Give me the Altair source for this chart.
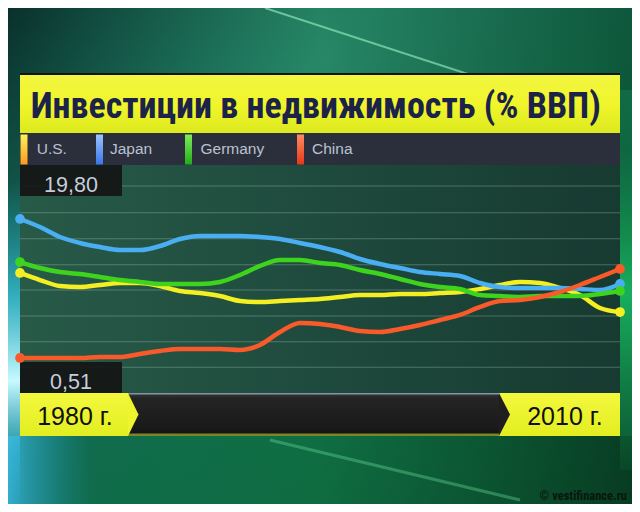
import altair as alt
import pandas as pd

# ---------------- data ----------------
title_text = "Инвестиции в недвижимость (% ВВП)"
series = ["U.S.", "Japan", "Germany", "China"]
colors = ["#f4ef22", "#4aaef2", "#3ed41e", "#fa5a2a"]
years = list(range(1980, 2011))
us = [12.31, 11.33, 10.50, 10.36, 10.64, 10.92, 10.92, 10.50, 9.81, 9.53,
      9.11, 8.42, 8.28, 8.42, 8.56, 8.70, 8.98, 9.25, 9.25, 9.39,
      9.39, 9.53, 9.67, 10.09, 10.64, 11.06, 10.92, 10.22, 9.25, 7.45, 6.89]
japan = [19.80, 18.69, 17.30, 16.47, 15.91, 15.50, 15.50, 16.05, 17.02, 17.44,
         17.44, 17.44, 17.30, 17.02, 16.47, 15.91, 15.22, 14.25, 13.56, 13.00,
         12.44, 12.17, 11.89, 10.92, 10.36, 10.22, 10.22, 10.22, 10.09, 9.95, 10.78]
germany = [13.83, 13.00, 12.44, 12.17, 11.75, 11.33, 11.06, 10.78, 10.78, 10.78,
           11.06, 12.03, 13.28, 14.11, 14.11, 13.69, 13.42, 12.72, 12.17, 11.47,
           10.78, 10.36, 10.09, 9.25, 9.11, 8.98, 9.11, 9.11, 9.11, 9.39, 9.81]
china = [0.51, 0.51, 0.51, 0.51, 0.65, 0.65, 1.07, 1.48, 1.76, 1.76,
         1.76, 1.62, 2.31, 4.12, 5.37, 5.23, 4.81, 4.26, 4.12, 4.53,
         5.09, 5.78, 6.48, 7.59, 8.42, 8.56, 8.98, 9.67, 10.64, 11.75, 12.86]
y_labels = ["19,80", "0,51"]
x_labels = ["1980 г.", "2010 г."]
credit = "© vestifinance.ru"

rows = []
for name, vals in zip(series, [us, japan, germany, china]):
    for yr, v in zip(years, vals):
        rows.append({"series": name, "year": yr, "value": v})
df = pd.DataFrame(rows)

# ---------------- helpers (layout, page coords -> chart coords) ----------------
O = 8
one = pd.DataFrame({"k": [0]})
NARROW = '"Roboto Condensed", "DejaVu Sans Condensed", sans-serif'
SANS = '"Liberation Sans", Arial, sans-serif'


def lin(stops, x1=0, y1=0, x2=0, y2=1):
    return alt.Gradient(gradient="linear",
                        stops=[alt.GradientStop(color=c, offset=o) for o, c in stops],
                        x1=x1, y1=y1, x2=x2, y2=y2)


def box(x1, y1, x2, y2, color, opacity=1.0):
    return alt.Chart(one).mark_rect(color=color, opacity=opacity).encode(
        x=alt.value(x1 - O), x2=alt.value(x2 - O),
        y=alt.value(y1 - O), y2=alt.value(y2 - O))


def label(text, x, y, size, color, font=SANS, weight="normal", align="left", opacity=1.0):
    return alt.Chart(one).mark_text(
        text=text, fontSize=size, color=color, font=font, fontWeight=weight,
        align=align, baseline="alphabetic", opacity=opacity).encode(
        x=alt.value(x - O), y=alt.value(y - O))


def line_deco(x1, y1, x2, y2, color, width, opacity):
    return alt.Chart(one).mark_rule(color=color, strokeWidth=width, opacity=opacity).encode(
        x=alt.value(x1 - O), y=alt.value(y1 - O), x2=alt.value(x2 - O), y2=alt.value(y2 - O))


def chevron(x, yc, w, h, color):
    path = "M0,-1L%.3f,0L0,1Z" % (2.0 * w / h)
    return alt.Chart(one).mark_point(shape=path, filled=True, fill=color, size=h * h,
                                     opacity=1, strokeWidth=0).encode(
        x=alt.value(x - O), y=alt.value(yc - O))


layers = []
# background
layers.append(box(8, 8, 632, 504, lin([(0, "#0a302c"), (0.3, "#156b58"), (0.6, "#0f6a44"), (1, "#0a4a2a")],
                                       x1=0, y1=0, x2=1, y2=1)))
layers.append(box(8, 8, 632, 90, lin([(0, "rgba(40,150,110,0)"), (0.5, "rgba(60,170,120,0.45)"),
                                        (1, "rgba(10,60,40,0.4)")], x1=0, y1=0, x2=1, y2=0)))
layers.append(box(8, 436, 632, 504, lin([(0, "rgba(20,120,120,0.6)"), (0.15, "rgba(16,110,80,0.4)"),
                                          (0.5, "rgba(16,120,70,0.5)"), (1, "rgba(6,50,28,0.6)")],
                                         x1=0, y1=0, x2=1, y2=0)))
# cyan glow along the left edge
layers.append(box(8, 180, 20, 504, lin([(0, "rgba(40,170,200,0)"), (0.35, "rgba(60,200,230,0.7)"),
                                         (0.62, "rgba(200,250,255,1)"), (0.85, "rgba(40,170,210,0.6)"),
                                         (1, "rgba(30,140,170,0.2)")])))
layers.append(box(8, 436, 90, 504, lin([(0, "rgba(60,190,230,0.75)"), (1, "rgba(30,140,170,0)")],
                                        x1=0, y1=0, x2=1, y2=0)))
# green glow on the right edge
layers.append(box(620, 150, 632, 470, lin([(0, "rgba(20,170,90,0)"), (0.45, "rgba(25,190,100,0.85)"),
                                            (1, "rgba(20,150,80,0.1)")])))
layers.append(line_deco(265, 8, 480, 78, "#a8ffd0", 2, 0.55))
layers.append(line_deco(270, 440, 520, 500, "#70e8a0", 3, 0.35))

# title bar
layers.append(box(20, 73, 620, 133, "#141414"))
layers.append(box(20, 75, 620, 133, lin([(0, "#f2f640"), (0.5, "#f1f52c"), (1, "#dcea1e")])))
layers.append(label(title_text, 30.7, 118.3, 36, "#1b2349", font=NARROW, weight="bold"))

# legend bar
layers.append(box(20, 133, 620, 165, "#2b2f3b"))
leg_marker_x = [20.5, 96, 185, 297]
leg_text_x = [36.7, 110, 200.5, 312]
marker_grads = [
    [(0, "#fff060"), (1, "#ff9a18")],
    [(0, "#9cc4ff"), (1, "#3a74e8")],
    [(0, "#80ec58"), (1, "#22ac1c")],
    [(0, "#ff8c62"), (1, "#e6381a")],
]
for name, mx, tx, g in zip(series, leg_marker_x, leg_text_x, marker_grads):
    layers.append(box(mx, 134.5, mx + 7, 164.5, lin(g)))
    layers.append(label(name, tx, 154, 15.5, "#b9c2d3"))

# plot panel
layers.append(box(20, 165, 620, 393, lin([(0, "#285a48"), (0.45, "#1f4c3e"), (1, "#173a31")],
                                         x1=0, y1=0, x2=1, y2=0)))
for gy in [186, 212.7, 238.7, 264.7, 290, 316, 341.7, 367.3]:
    layers.append(box(20, gy - 0.5, 620, gy + 0.5, "#b8d0c8", 0.33))

# min / max value boxes
layers.append(box(20, 165, 122, 196, "#141414", 0.93))
layers.append(box(20, 362, 122, 393, "#141414", 0.93))
layers.append(label(y_labels[0], 71, 192.3, 21.5, "#c5cedb", align="center"))
layers.append(label(y_labels[1], 71, 388.5, 21.5, "#c5cedb", align="center"))

# data lines
xs = alt.X("year:Q", scale=alt.Scale(domain=[1980, 2010], range=[12, 612], nice=False, zero=False), axis=None)
ys = alt.Y("value:Q", scale=alt.Scale(domain=[-4.35, 27.57], range=[385, 155], nice=False, zero=False), axis=None)
cs = alt.Color("series:N", scale=alt.Scale(domain=series, range=colors), legend=None)
base = alt.Chart(df).encode(x=xs, y=ys, color=cs)
layers.append(base.mark_line(strokeWidth=4.5, interpolate="monotone", strokeCap="round", strokeJoin="round"))
layers.append(base.mark_circle(size=95, opacity=1).transform_filter(
    (alt.datum.year == years[0]) | (alt.datum.year == years[-1])))

# bottom time bar
layers.append(box(128, 393, 499, 436, lin([(0, "#3a3a3a"), (0.12, "#242424"), (0.8, "#1a1a1a"), (1, "#101010")])))
layers.append(box(128, 393, 499, 394.5, "#8aa0b2", 0.9))
layers.append(box(128, 433.5, 499, 436, "#a8b830", 0.7))
yel = lin([(0, "#f4f83e"), (1, "#e2ee20")])
layers.append(box(20, 393, 128, 436, yel))
layers.append(chevron(128, 414.5, 10.5, 43, "#eef42e"))
layers.append(box(499, 393, 620, 436, yel))
layers.append(chevron(499, 414.5, 11, 43, "#1e1e1e"))
layers.append(label(x_labels[0], 75, 425, 25, "#101010", align="center"))
layers.append(label(x_labels[1], 565, 425, 25, "#101010", align="center"))

# credit
layers.append(label(credit, 627, 500, 12.5, "#08160e", font=NARROW, weight="bold", align="right"))

chart = alt.layer(*layers).properties(
    width=624, height=496,
    autosize=alt.AutoSizeParams(type="none"),
    padding=0,
    background="#0c4a38",
).configure_view(strokeWidth=0)

chart.save("out.html", embed_options={"renderer": "svg", "actions": False})
